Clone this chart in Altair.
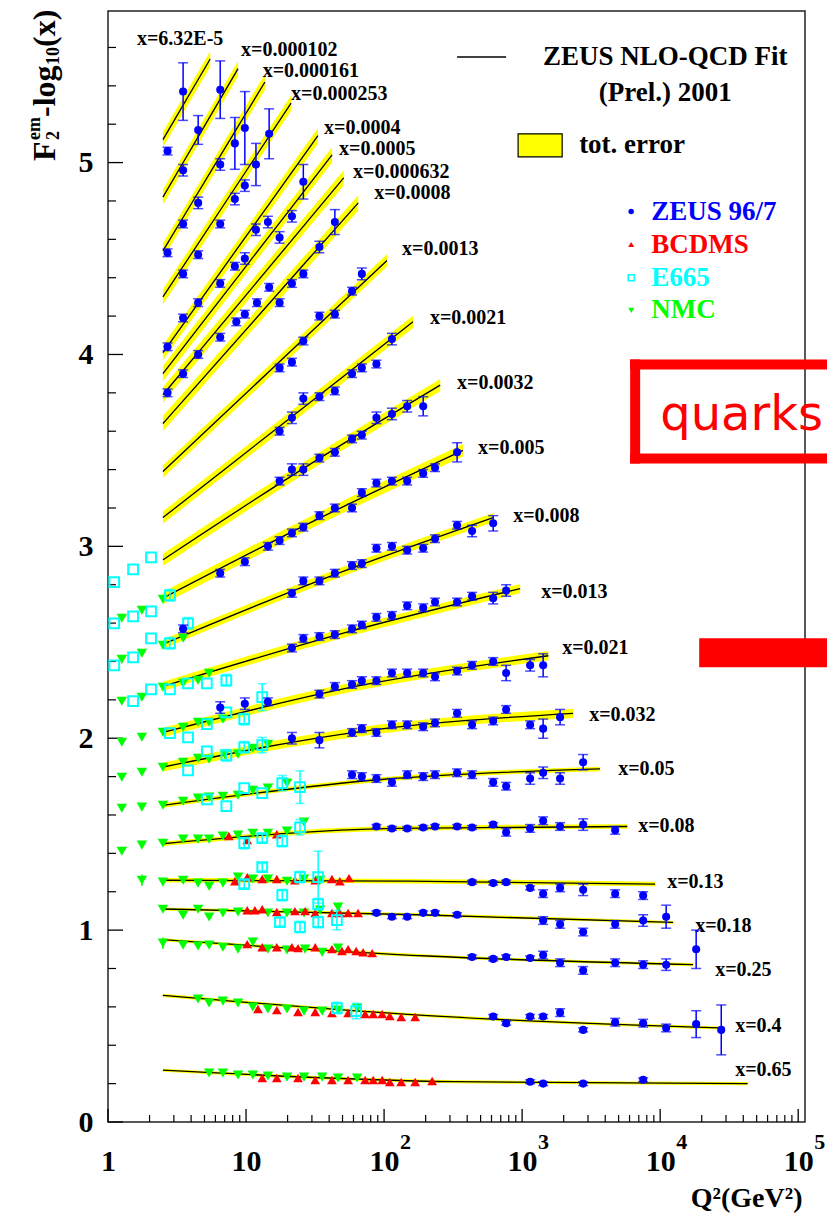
import math
import altair as alt
import pandas as pd

SERIF = "Liberation Serif"

# ---------------- fit curves (ZEUS NLO-QCD fit) ----------------
bin_labels = ["x=6.32E-5", "x=0.000102", "x=0.000161", "x=0.000253", "x=0.0004", "x=0.0005",
              "x=0.000632", "x=0.0008", "x=0.0013", "x=0.0021", "x=0.0032", "x=0.005",
              "x=0.008", "x=0.013", "x=0.021", "x=0.032", "x=0.05", "x=0.08", "x=0.13",
              "x=0.18", "x=0.25", "x=0.4", "x=0.65"]
fit_q2_start = 2.5
fit_q2_end = [5.5, 8.75, 13.7, 21.2, 33.2, 42, 51, 65, 105, 162, 255, 373, 617, 968, 1550,
              2340, 3670, 5780, 9200, 12400, 17300, 27000, 43000]
fit_y_start = [5.12, 4.82, 4.54, 4.30, 4.01, 3.90, 3.79, 3.64, 3.39, 3.15, 2.93, 2.73, 2.49,
               2.27, 2.03, 1.85, 1.65, 1.45, 1.26, 1.11, 0.95, 0.66, 0.27]
fit_y_mid = [5.33, 5.155, 4.98, 4.805, 4.575, 4.47, 4.355, 4.215, 3.94, 3.66, 3.40, 3.13, 2.84,
             2.545, 2.27, 2.04, 1.785, 1.53, 1.255, 1.08, 0.865, 0.55, 0.21]
fit_y_end = [5.54, 5.49, 5.42, 5.31, 5.14, 5.04, 4.92, 4.79, 4.49, 4.17, 3.84, 3.50, 3.15,
             2.78, 2.43, 2.13, 1.84, 1.54, 1.24, 1.04, 0.82, 0.49, 0.20]
band_half = [0.04] * 8 + [0.032] * 4 + [0.024] * 4 + [0.012] * 3 + [0.008] * 4
label_q2 = [1.62, 9.2, 13.2, 21.2, 36.7, 47.2, 59.6, 84.7, 135, 215, 338, 480, 861, 1374, 1950,
            3060, 4960, 6930, 11240, 17940, 25050, 34940, 34940]
label_y = [5.646, 5.589, 5.479, 5.359, 5.182, 5.073, 4.953, 4.839, 4.552, 4.188, 3.849, 3.51,
           3.156, 2.76, 2.469, 2.12, 1.839, 1.542, 1.25, 1.021, 0.792, 0.5, 0.271]

# ---------------- measurements: (Q2, F2-log10(x), error) ----------------
zeus_points = [
    (2.7, 5.06, .02), (3.5, 5.37, .15), (4.5, 5.17, .075), (6.5, 5.38, .15), (3.5, 4.96, .03),
    (4.5, 4.79, .03), (8.3, 5.10, .135), (9.8, 5.18, .19), (11.8, 4.99, .11), (14.7, 5.15, .13),
    (26, 4.90, .09), (44, 4.69, .065), (34, 4.56, .03), (21.5, 4.72, .03), (17.5, 4.61, .03),
    (14.4, 4.69, .03), (11.8, 4.65, .03), (9.8, 4.88, .03), (8.3, 4.81, .03), (9.8, 4.50, .03),
    (8.3, 4.46, .02), (6.5, 4.99, .03), (6.5, 4.68, .02), (4.5, 4.52, .02), (3.5, 4.68, .02),
    (3.5, 4.42, .02), (2.7, 4.53, .02), (4.5, 4.27, .02), (3.5, 4.19, .02), (6.5, 4.37, .02),
    (14.7, 4.35, .02), (17.5, 4.27, .02), (21.5, 4.37, .02), (26, 4.42, .02), (58.6, 4.33, .02),
    (69, 4.42, .03), (44, 4.21, .02), (2.7, 4.04, .02), (8.5, 4.17, .02), (9.8, 4.21, .02),
    (12, 4.27, .02), (2.7, 3.80, .02), (3.5, 3.90, .02), (4.5, 4.00, .02), (6.5, 4.09, .02),
    (17.5, 3.93, .02), (21.5, 3.96, .02), (26, 4.07, .02), (34, 4.20, .02), (26, 3.77, .03),
    (34, 3.78, .02), (44, 3.81, .02), (58.6, 3.90, .02), (69, 3.93, .02), (88, 3.95, .02),
    (114, 4.08, .03), (17.5, 3.60, .02), (21.5, 3.67, .03), (17.5, 3.34, .02), (21.5, 3.40, .03),
    (26, 3.40, .03), (34, 3.46, .02), (44, 3.49, .02), (58.6, 3.56, .02), (69, 3.58, .02),
    (88, 3.67, .03), (114, 3.69, .03), (147, 3.73, .03), (192, 3.73, .05),
    # x = 0.005
    (6.5, 2.86, .02), (9.8, 2.92, .02), (14.4, 3.00, .02), (17.5, 3.03, .02), (21.5, 3.07, .02),
    (26, 3.10, .02), (34, 3.16, .02), (44, 3.20, .02), (58.6, 3.20, .02), (69, 3.28, .02),
    (88, 3.33, .02), (114, 3.34, .02), (147, 3.34, .02), (192, 3.38, .02), (234, 3.41, .02),
    (338, 3.49, .05),
    # x = 0.008
    (3.5, 2.57, .02), (21.5, 2.755, .02), (26, 2.82, .02), (34, 2.82, .02), (44, 2.86, .02),
    (58.6, 2.90, .02), (69, 2.91, .02), (88, 2.99, .02), (114, 3.00, .02), (147, 2.98, .02),
    (192, 2.99, .02), (234, 3.04, .02), (338, 3.11, .02), (434, 3.08, .03), (617, 3.12, .04),
    # x = 0.013
    (21.5, 2.47, .02), (26, 2.52, .02), (34, 2.53, .02), (44, 2.54, .02), (58.6, 2.57, .02),
    (69, 2.59, .02), (88, 2.63, .02), (114, 2.64, .02), (147, 2.69, .02), (192, 2.68, .02),
    (234, 2.71, .02), (338, 2.71, .02), (434, 2.74, .02), (617, 2.73, .03), (766, 2.77, .03),
    # x = 0.021
    (6.5, 2.16, .03), (9.8, 2.18, .03), (14.4, 2.19, .02), (34, 2.23, .02), (44, 2.27, .02),
    (58.6, 2.28, .02), (69, 2.30, .02), (88, 2.30, .02), (114, 2.34, .02), (147, 2.34, .02),
    (192, 2.34, .02), (234, 2.32, .02), (338, 2.35, .02), (434, 2.38, .02), (617, 2.40, .02),
    (766, 2.34, .04), (1143, 2.38, .03), (1420, 2.38, .06),
    # x = 0.032
    (21.5, 2.00, .03), (34, 1.99, .04), (58.6, 2.03, .02), (69, 2.05, .02), (88, 2.03, .02),
    (114, 2.07, .02), (147, 2.07, .02), (192, 2.06, .02), (234, 2.08, .02), (338, 2.13, .02),
    (434, 2.07, .02), (617, 2.09, .02), (766, 2.15, .02), (1143, 2.07, .02), (1420, 2.05, .05),
    (1884, 2.11, .04),
    # x = 0.05
    (58.6, 1.81, .02), (69, 1.80, .02), (88, 1.79, .02), (114, 1.77, .02), (147, 1.81, .02),
    (192, 1.80, .02), (234, 1.81, .02), (338, 1.82, .02), (434, 1.81, .02), (617, 1.77, .02),
    (766, 1.75, .02), (1143, 1.79, .03), (1420, 1.82, .03), (1884, 1.79, .03), (2767, 1.875, .04),
    # x = 0.08
    (88, 1.54, .01), (114, 1.53, .01), (147, 1.53, .01), (192, 1.535, .01), (234, 1.54, .01),
    (338, 1.54, .01), (434, 1.535, .01), (617, 1.55, .01), (766, 1.51, .02), (1143, 1.53, .02),
    (1420, 1.57, .02), (1884, 1.54, .02), (2767, 1.55, .03), (4720, 1.52, .02),
    # x = 0.13
    (434, 1.25, .01), (617, 1.245, .01), (766, 1.25, .01), (1143, 1.22, .01), (1420, 1.19, .02),
    (1884, 1.22, .02), (2767, 1.21, .03), (4720, 1.19, .02), (7530, 1.18, .02),
    # x = 0.18
    (88, 1.09, .01), (114, 1.07, .01), (147, 1.07, .01), (192, 1.09, .01), (234, 1.09, .01),
    (338, 1.08, .01), (1420, 1.05, .02), (1884, 1.03, .02), (2767, 0.99, .02), (4720, 1.03, .02),
    (7530, 1.05, .03), (11050, 1.07, .06),
    # x = 0.25
    (434, 0.86, .01), (617, 0.85, .01), (766, 0.86, .01), (1143, 0.855, .01), (1420, 0.87, .02),
    (1884, 0.83, .02), (2767, 0.79, .02), (4720, 0.83, .02), (7530, 0.82, .02), (11050, 0.82, .03),
    (18230, 0.90, .10),
    # x = 0.4
    (617, 0.55, .01), (766, 0.515, .01), (1143, 0.55, .01), (1420, 0.55, .01), (1884, 0.57, .02),
    (2767, 0.48, .01), (4720, 0.52, .02), (7530, 0.515, .02), (11050, 0.49, .02), (18230, 0.51, .07),
    (27700, 0.48, .13),
    # x = 0.65
    (1143, 0.21, .01), (1420, 0.20, .01), (2767, 0.20, .01), (7530, 0.22, .01),
]

nmc_points = [
    (1.26, 2.625, 0), (1.76, 2.667, 0), (1.26, 2.411, 0), (1.76, 2.443, 0), (1.26, 2.193, 0),
    (1.76, 2.214, 0), (1.26, 1.979, 0), (1.76, 2.005, 0), (1.26, 1.797, 0), (1.76, 1.823, 0),
    (1.26, 1.635, 0), (1.76, 1.641, 0), (1.26, 1.411, 0), (1.76, 1.443, 0), (1.76, 1.26, .03),
    (2.5, 2.724, 0), (2.5, 2.484, 0), (3.5, 2.521, 0), (2.5, 2.266, 0), (3.5, 2.286, 0),
    (4.49, 2.302, 0), (5.4, 2.339, 0),
    (2.5, 2.031, 0), (3.5, 2.057, 0), (4.49, 2.083, 0), (5.4, 2.083, 0), (6.8, 2.099, 0),
    (2.5, 1.849, 0), (3.5, 1.875, 0), (4.49, 1.896, 0), (5.4, 1.891, 0), (7.0, 1.917, 0),
    (8.75, 1.917, 0), (11.2, 1.948, 0), (14.4, 1.969, 0),
    (2.5, 1.651, 0), (3.5, 1.672, 0), (4.49, 1.688, 0), (5.4, 1.693, 0), (6.8, 1.698, 0),
    (8.75, 1.703, 0), (11.2, 1.729, 0), (14.4, 1.740, 0), (19.8, 1.766, 0),
    (2.5, 1.453, 0), (3.5, 1.474, 0), (4.49, 1.474, 0), (5.4, 1.474, 0), (6.8, 1.490, 0),
    (8.75, 1.495, 0), (11.2, 1.505, 0), (14.4, 1.505, 0), (19.8, 1.516, 0), (26.3, 1.563, 0),
    (2.5, 1.250, 0), (3.5, 1.260, 0), (4.49, 1.245, 0), (5.4, 1.229, 0), (6.8, 1.245, 0),
    (8.75, 1.276, 0), (11.2, 1.266, 0), (14.4, 1.266, 0), (19.8, 1.255, 0), (26.3, 1.266, 0),
    (34.4, 1.260, 0),
    (2.5, 1.109, 0), (3.5, 1.078, 0), (4.49, 1.109, 0), (5.4, 1.068, 0), (6.8, 1.089, 0),
    (8.75, 1.094, 0), (14.4, 1.089, 0), (19.8, 1.089, 0), (26.3, 1.089, 0), (34.4, 1.104, 0),
    (46.4, 1.120, 0),
    (2.5, 0.932, .03), (3.5, 0.922, 0), (4.49, 0.917, 0), (5.4, 0.922, 0), (6.8, 0.911, 0),
    (8.75, 0.901, 0), (11.2, 0.938, 0), (14.4, 0.901, 0), (19.8, 0.896, 0), (26.8, 0.901, 0),
    (35.6, 0.885, 0), (46.4, 0.906, 0),
    (4.49, 0.641, 0), (5.4, 0.620, 0), (6.8, 0.630, 0), (8.75, 0.620, 0), (11.2, 0.599, 0),
    (14.4, 0.589, 0), (19.8, 0.589, 0), (26.3, 0.578, 0), (35.6, 0.578, 0), (46.4, 0.583, 0),
    (63.8, 0.594, 0),
    (5.4, 0.255, 0), (6.8, 0.255, 0), (8.75, 0.245, 0), (11.2, 0.245, 0), (14.4, 0.240, 0),
    (19.8, 0.234, 0), (26.3, 0.234, 0), (35.6, 0.234, 0), (46.4, 0.229, 0), (63.8, 0.229, 0),
]

bcdms_points = [
    (7.5, 1.490), (10.2, 1.469), (16.7, 1.500),
    (8.3, 1.255), (10.2, 1.276), (13.1, 1.266), (16.7, 1.266), (22.6, 1.260), (31.7, 1.260),
    (41.9, 1.266), (47.8, 1.255), (55.7, 1.271),
    (10.2, 1.104), (11.6, 1.104), (13.1, 1.109), (16.7, 1.094), (22.6, 1.099), (26.8, 1.099),
    (31.7, 1.089), (41.9, 1.089), (47.8, 1.089), (54.9, 1.089), (64.8, 1.089),
    (10.2, 0.927), (13.1, 0.911), (16.7, 0.911), (21.5, 0.911), (23.8, 0.906), (31.7, 0.911),
    (41.9, 0.901), (49.5, 0.891), (54.9, 0.901), (62.8, 0.891), (70.5, 0.885), (82.0, 0.880),
    (12.2, 0.589), (16.7, 0.583), (23.8, 0.573), (31.7, 0.573), (41.9, 0.568), (54.9, 0.568),
    (72.9, 0.563), (83.4, 0.563), (96.9, 0.563), (110, 0.552), (133, 0.547), (168, 0.547),
    (13.1, 0.229), (16.7, 0.229), (23.8, 0.229), (31.7, 0.219), (41.9, 0.219), (54.9, 0.219),
    (72.9, 0.219), (83.4, 0.219), (96.9, 0.219), (110, 0.208), (133, 0.208), (168, 0.208),
    (223, 0.214),
]

e665_points = [
    (2.05, 2.943, 0), (1.52, 2.880, 0), (1.11, 2.813, 0), (2.81, 2.745, .03), (2.05, 2.661, 0),
    (1.52, 2.635, 0), (1.11, 2.599, 0), (3.8, 2.599, .03), (2.05, 2.521, 0), (1.52, 2.422, 0),
    (1.11, 2.380, 0), (2.81, 2.495, .03), (5.2, 2.286, 0), (7.2, 2.302, .03), (2.05, 2.255, 0),
    (2.81, 2.255, 0), (3.8, 2.286, 0), (1.52, 2.193, 0),
    (2.81, 2.026, 0), (3.8, 2.005, 0), (5.2, 2.073, 0), (7.2, 2.135, 0), (9.7, 2.099, .03),
    (13.1, 2.214, .07),
    (3.8, 1.833, 0), (5.2, 1.932, 0), (7.2, 1.911, .03), (9.7, 1.953, .03), (13.1, 1.964, .04),
    (5.2, 1.682, 0), (7.2, 1.646, 0), (9.7, 1.740, 0), (13.1, 1.714, 0), (18.3, 1.766, .04),
    (24.6, 1.745, .085),
    (9.7, 1.453, .03), (13.1, 1.479, .02), (18.3, 1.464, .03), (24.6, 1.536, .04),
    (9.7, 1.240, .02), (13.1, 1.328, .02), (18.3, 1.182, .03), (24.6, 1.276, .03),
    (33.3, 1.276, .135),
    (17.6, 1.042, .02), (24.6, 1.016, .03), (33.3, 1.042, .03), (33.3, 1.135, .03),
    (45.5, 1.052, .05),
    (45.5, 0.594, .03), (62.8, 0.578, .04),
]

# ---------------- axes ----------------
x_tick_values = [1, 10, 100, 1000, 10000, 100000]
x_exp_values = [100, 1000, 10000, 100000]
x_exp_text = ["2", "3", "4", "5"]
y_tick_values = [0, 1, 2, 3, 4, 5]
x_minor_values = [k * 10 ** d for d in range(5) for k in range(2, 10)]
y_minor_values = [round(0.2 * i, 1) for i in range(29) if i % 5]

# ---------------- legend / annotations ----------------
legend_names = ["ZEUS 96/7", "BCDMS", "E665", "NMC"]
legend_colors = ["#0000ff", "#ff0000", "#00ffff", "#00ff00"]
legend_y = [4.745, 4.573, 4.40, 4.23]
legend_marker_q2 = 6166
legend_text_q2 = 8610

BLUE, RED, CYAN, GREEN, YELLOW = "#0000ff", "#ff0000", "#00ffff", "#00ff00", "#ffff00"

xs = alt.Scale(type="log", domain=[1, 112000], nice=False)
ysc = alt.Scale(domain=[0, 5.79], nice=False, zero=False)
xaxis = alt.Axis(values=x_tick_values, labelExpr="datum.value == 1 ? '1' : '10'",
                 labelFont=SERIF, labelFontSize=30, labelFontWeight="bold", labelColor="black",
                 labelPadding=24, ticks=False, tickSize=0, domain=False, grid=False,
                 labelFlush=False, labelOverlap=False, labelBound=False,
                 title="Q²(GeV²)", titleFont=SERIF, titleFontSize=28, titleFontWeight="bold",
                 titleColor="black", titleX=694, titleY=84, titleAlign="right",
                 titleBaseline="alphabetic", titleAngle=0)
yaxis = alt.Axis(values=y_tick_values, format="d", labelFont=SERIF, labelFontSize=30,
                 labelFontWeight="bold", labelColor="black", labelPadding=15, ticks=False,
                 tickSize=0, domain=False, grid=False, labelFlush=False, labelOverlap=False,
                 labelBound=False, title=None)


def X(f):
    return alt.X(f, type="quantitative", scale=xs, axis=xaxis)


def Y(f):
    return alt.Y(f, type="quantitative", scale=ysc, axis=yaxis)


# ---------------- build tables ----------------
rows = []
for i, lab in enumerate(bin_labels):
    qe = fit_q2_end[i]
    qs = [fit_q2_start, math.sqrt(fit_q2_start * qe), qe]
    yv = [fit_y_start[i], fit_y_mid[i], fit_y_end[i]]
    for q, y in zip(qs, yv):
        rows.append({"bin": lab, "q2": q, "y": y, "lo": y - band_half[i], "hi": y + band_half[i]})
fit_df = pd.DataFrame(rows)
lab_df = pd.DataFrame({"label": bin_labels, "q2": label_q2, "y": label_y})


def pts(lst):
    df = pd.DataFrame(lst, columns=["q2", "y", "err"])
    df["lo"] = df["y"] - df["err"]
    df["hi"] = df["y"] + df["err"]
    return df


zeus_df = pts(zeus_points)
nmc_df = pts(nmc_points)
e665_df = pts(e665_points)
bcdms_df = pd.DataFrame(bcdms_points, columns=["q2", "y"])

layers = []

# frame ticks (inward)
layers.append(alt.Chart(pd.DataFrame({"q2": x_tick_values})).mark_rule(color="black", strokeWidth=1.3)
              .encode(x=X("q2"), y=alt.value(1111), y2=alt.value(1098)))
layers.append(alt.Chart(pd.DataFrame({"q2": x_minor_values})).mark_rule(color="black", strokeWidth=1.2)
              .encode(x=X("q2"), y=alt.value(1111), y2=alt.value(1104)))
layers.append(alt.Chart(pd.DataFrame({"y": y_tick_values})).mark_rule(color="black", strokeWidth=1.3)
              .encode(y=Y("y"), x=alt.value(0), x2=alt.value(15)))
layers.append(alt.Chart(pd.DataFrame({"y": y_minor_values})).mark_rule(color="black", strokeWidth=1.2)
              .encode(y=Y("y"), x=alt.value(0), x2=alt.value(8)))

# fit bands and curves
layers.append(alt.Chart(fit_df).mark_area(color=YELLOW, interpolate="monotone", opacity=1)
              .encode(x=X("q2"), y=Y("lo"), y2="hi:Q", detail="bin:N"))
layers.append(alt.Chart(fit_df).mark_line(color="black", strokeWidth=1.3, interpolate="monotone")
              .encode(x=X("q2"), y=Y("y"), detail="bin:N"))
layers.append(alt.Chart(lab_df).mark_text(align="left", baseline="middle", font=SERIF, fontSize=20,
                                          fontWeight="bold", color="black")
              .encode(x=X("q2"), y=Y("y"), text="label:N"))

# fixed-target data
layers.append(alt.Chart(nmc_df[nmc_df.err > 0]).mark_rule(color=GREEN, strokeWidth=1.5)
              .encode(x=X("q2"), y=Y("lo"), y2="hi:Q"))
layers.append(alt.Chart(nmc_df).mark_point(shape="triangle-down", filled=True, size=110, color=GREEN,
                                           opacity=1)
              .encode(x=X("q2"), y=Y("y")))
layers.append(alt.Chart(bcdms_df).mark_point(shape="triangle-up", filled=True, size=95, color=RED,
                                             opacity=1)
              .encode(x=X("q2"), y=Y("y")))
e_err = e665_df[e665_df.err > 0]
layers.append(alt.Chart(e_err).mark_rule(color=CYAN, strokeWidth=1.5)
              .encode(x=X("q2"), y=Y("lo"), y2="hi:Q"))
for f in ["lo", "hi"]:
    layers.append(alt.Chart(e_err).mark_tick(orient="horizontal", size=9, thickness=1.5, color=CYAN)
                  .encode(x=X("q2"), y=Y(f)))
layers.append(alt.Chart(e665_df).mark_point(shape="square", filled=False, size=95, color=CYAN,
                                            strokeWidth=2, opacity=1)
              .encode(x=X("q2"), y=Y("y")))

# ZEUS data
layers.append(alt.Chart(zeus_df).mark_rule(color=BLUE, strokeWidth=1.5)
              .encode(x=X("q2"), y=Y("lo"), y2="hi:Q"))
for f in ["lo", "hi"]:
    layers.append(alt.Chart(zeus_df).mark_tick(orient="horizontal", size=10, thickness=1.5, color=BLUE)
                  .encode(x=X("q2"), y=Y(f)))
layers.append(alt.Chart(zeus_df).mark_point(shape="circle", filled=True, size=65, color=BLUE, opacity=1)
              .encode(x=X("q2"), y=Y("y")))

# legend
layers.append(alt.Chart(pd.DataFrame({"q2": [338], "q2b": [766], "y": [5.55]}))
              .mark_rule(color="black", strokeWidth=1.5)
              .encode(x=X("q2"), x2="q2b:Q", y=Y("y")))
layers.append(alt.Chart(pd.DataFrame({"t": ["ZEUS NLO-QCD Fit", "(Prel.) 2001"],
                                      "q2": [10870, 10870], "y": [5.55, 5.365]}))
              .mark_text(align="center", baseline="middle", font=SERIF, fontSize=27,
                         fontWeight="bold", color="black")
              .encode(x=X("q2"), y=Y("y"), text="t:N"))
layers.append(alt.Chart(pd.DataFrame({"q2": [935], "q2b": [1950], "y": [5.03], "yb": [5.15]}))
              .mark_rect(color=YELLOW, stroke="black", strokeWidth=1.2)
              .encode(x=X("q2"), x2="q2b:Q", y=Y("y"), y2="yb:Q"))
layers.append(alt.Chart(pd.DataFrame({"t": ["tot. error"], "q2": [2588], "y": [5.09]}))
              .mark_text(align="left", baseline="middle", font=SERIF, fontSize=27,
                         fontWeight="bold", color="black")
              .encode(x=X("q2"), y=Y("y"), text="t:N"))
leg_df = pd.DataFrame({"t": legend_names, "c": legend_colors, "y": legend_y,
                       "q2": [legend_text_q2] * 4, "qm": [legend_marker_q2] * 4})
layers.append(alt.Chart(leg_df).mark_text(align="left", baseline="middle", font=SERIF, fontSize=27,
                                          fontWeight="bold")
              .encode(x=X("q2"), y=Y("y"), text="t:N", color=alt.Color("c:N", scale=None)))
leg_shapes = [("circle", True, 30), ("triangle-up", True, 35), ("square", False, 35),
              ("triangle-down", True, 35)]
for i, (shp, fill, sz) in enumerate(leg_shapes):
    layers.append(alt.Chart(leg_df.iloc[[i]]).mark_point(shape=shp, filled=fill, size=sz,
                                                         color=legend_colors[i], opacity=1,
                                                         strokeWidth=1.5)
                  .encode(x=X("qm"), y=Y("y")))

# "quarks" annotation
box_df = pd.DataFrame({"q2": [6063, 6063, 6063, 19180],
                       "q2b": [162000, 162000, 7161, 162000],
                       "y": [3.922, 3.432, 3.432, 2.370],
                       "yb": [3.974, 3.484, 3.974, 2.521]})
layers.append(alt.Chart(box_df).mark_rect(color=RED, opacity=1)
              .encode(x=X("q2"), x2="q2b:Q", y=Y("y"), y2="yb:Q"))
layers.append(alt.Chart(pd.DataFrame({"t": ["quarks"], "q2": [10000], "y": [3.604]}))
              .mark_text(align="left", baseline="alphabetic", font="DejaVu Sans", fontSize=48,
                         color=RED)
              .encode(x=X("q2"), y=Y("y"), text="t:N"))

# x-axis exponents
layers.append(alt.Chart(pd.DataFrame({"q2": x_exp_values, "t": x_exp_text}))
              .mark_text(align="left", baseline="alphabetic", font=SERIF, fontSize=22,
                         fontWeight="bold", color="black", dx=16)
              .encode(x=X("q2"), y=alt.value(1138), text="t:N"))

# y-axis title pieces: F_2^em - log_10(x)
title_pieces = [("F", 32, -53, 150), ("em", 18, -68, 129), ("2", 18, -49, 129),
                ("-log", 32, -53, 106), ("10", 18, -49, 54), ("(x)", 32, -53, 36)]
for t, fs, px, py in title_pieces:
    layers.append(alt.Chart(pd.DataFrame({"t": [t]}))
                  .mark_text(align="left", baseline="alphabetic", font=SERIF, fontSize=fs,
                             fontWeight="bold", color="black", angle=270)
                  .encode(text="t:N", x=alt.value(px), y=alt.value(py)))

chart = (alt.layer(*layers)
         .properties(width=697, height=1111,
                     padding={"left": 108, "top": 11, "right": 22, "bottom": 92},
                     autosize=alt.AutoSizeParams(type="none"), background="white")
         .configure_view(stroke="#222222", strokeWidth=1.5))

chart.save("out.html", embed_options={"renderer": "svg", "actions": False})
